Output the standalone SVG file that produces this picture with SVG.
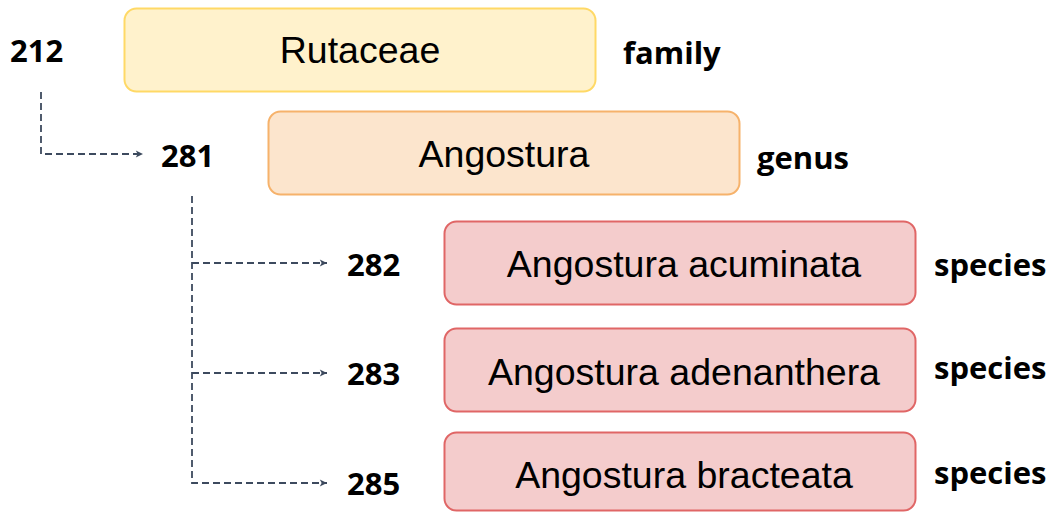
<svg xmlns="http://www.w3.org/2000/svg" width="1051" height="512" viewBox="0 0 1051 512">
<style>
.box{stroke-width:2}
.fam{fill:#fff2cc;stroke:#ffd966}
.gen{fill:#fce5cd;stroke:#f6b26b}
.sp{fill:#f4cccc;stroke:#e06666}
.name{font-family:"Liberation Sans",Arial,sans-serif;font-size:37.5px;fill:#000;text-anchor:middle}
.lbl{font-family:"Open Sans","Noto Sans",sans-serif;font-weight:bold;font-size:31px;fill:#000}
.conn{fill:none;stroke:#3d4a5e;stroke-width:1.8;stroke-dasharray:7 4}
</style>
<defs>
<marker id="arr" viewBox="0 0 10 10" refX="9" refY="5" markerWidth="9" markerHeight="9" markerUnits="userSpaceOnUse" orient="auto">
<path d="M1,1 L9,5 L1,9 L3,5 Z" fill="#3d4a5e"/>
</marker>
</defs>
<rect width="1051" height="512" fill="#fff"/>
<g id="connectors">
<path class="conn" d="M41,92 V154 H143" marker-end="url(#arr)"/>
<path class="conn" d="M192,196 V483 H327" marker-end="url(#arr)"/>
<path class="conn" d="M192,263 H327" marker-end="url(#arr)"/>
<path class="conn" d="M192,373 H327" marker-end="url(#arr)"/>
</g>
<g id="n212"><text class="lbl" x="10" y="62">212</text></g>
<g id="rutaceae">
<rect class="box fam" x="124.5" y="8.5" width="471" height="83" rx="12"/>
<text class="name" x="360" y="63">Rutaceae</text>
</g>
<g id="family"><text class="lbl" x="623" y="64">family</text></g>
<g id="n281"><text class="lbl" x="161" y="167">281</text></g>
<g id="angostura">
<rect class="box gen" x="268.5" y="111.5" width="471" height="83" rx="12"/>
<text class="name" x="504" y="167">Angostura</text>
</g>
<g id="genus"><text class="lbl" x="757" y="169">genus</text></g>
<g id="n282"><text class="lbl" x="347" y="276">282</text></g>
<g id="acuminata">
<rect class="box sp" x="444.5" y="221.5" width="471" height="83" rx="12"/>
<text class="name" x="684" y="277">Angostura acuminata</text>
</g>
<g id="species1"><text class="lbl" x="934" y="276">species</text></g>
<g id="n283"><text class="lbl" x="347" y="385">283</text></g>
<g id="adenanthera">
<rect class="box sp" x="444.5" y="328.5" width="471" height="83" rx="12"/>
<text class="name" x="684" y="385">Angostura adenanthera</text>
</g>
<g id="species2"><text class="lbl" x="934" y="379">species</text></g>
<g id="n285"><text class="lbl" x="347" y="495">285</text></g>
<g id="bracteata">
<rect class="box sp" x="444.5" y="432.5" width="471" height="78" rx="12"/>
<text class="name" x="684" y="488">Angostura bracteata</text>
</g>
<g id="species3"><text class="lbl" x="934" y="484">species</text></g>
</svg>
